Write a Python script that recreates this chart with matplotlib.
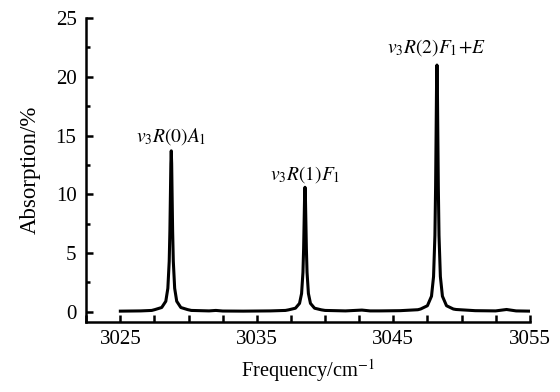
import numpy as np
import matplotlib
matplotlib.use("Agg")
import matplotlib.pyplot as plt
from matplotlib.ticker import MultipleLocator

plt.rcParams['font.family'] = ['Liberation Serif', 'DejaVu Serif']
plt.rcParams['mathtext.fontset'] = 'stix'

# line centres (cm^-1)
centres = [3028.73, 3038.53, 3048.2]
labels = [r'$v_3R(0)A_1$', r'$v_3R(1)F_1$', r'$v_3R(2)F_1\!+\!E$']
# offsets from each centre where the profile was read
offsets = [-1.2, -0.7, -0.4, -0.25, -0.15, -0.1, -0.06, -0.03, 0.0,
           0.03, 0.06, 0.1, 0.15, 0.25, 0.4, 0.7, 1.2]
peak1 = [0.19, 0.37, 0.9, 2.0, 4.3, 6.9, 10.1, 12.6, 13.7,
         12.6, 10.1, 6.9, 4.3, 2.0, 0.9, 0.37, 0.19]
peak2 = [0.17, 0.31, 0.72, 1.56, 3.36, 5.4, 7.9, 9.8, 10.6,
         9.8, 7.9, 5.4, 3.36, 1.56, 0.72, 0.31, 0.17]
peak3 = [0.24, 0.52, 1.33, 3.0, 6.5, 10.6, 15.5, 19.3, 21.0,
         19.3, 15.5, 10.6, 6.5, 3.0, 1.33, 0.52, 0.24]

# baseline stretches between the lines
base_x = [[3025.0, 3026.5, 3027.3],
          [3030.2, 3031.5, 3032.0, 3032.5, 3034.0, 3036.0, 3037.1],
          [3040.0, 3041.5, 3042.7, 3043.3, 3044.0, 3045.5, 3046.8],
          [3049.6, 3051.0, 3052.5, 3053.3, 3054.0, 3055.0]]
base_y = [[0.06, 0.08, 0.12],
          [0.12, 0.08, 0.12, 0.07, 0.06, 0.08, 0.12],
          [0.12, 0.08, 0.15, 0.08, 0.08, 0.1, 0.18],
          [0.2, 0.1, 0.08, 0.2, 0.08, 0.06]]

peaks = [peak1, peak2, peak3]
freq, absn = list(base_x[0]), list(base_y[0])
for i, c in enumerate(centres):
    freq += [c + o for o in offsets] + base_x[i + 1]
    absn += peaks[i] + base_y[i + 1]

fig = plt.figure(figsize=(5.6, 3.92), dpi=100)
ax = fig.add_axes([0.154, 0.179, 0.792, 0.775])
ax.plot(freq, absn, color='black', lw=2.2, solid_joinstyle='round')

ax.set_xlim(3022.5, 3055)
ax.set_ylim(-0.85, 25)
ax.set_xticks([3025, 3035, 3045, 3055])
ax.xaxis.set_minor_locator(MultipleLocator(2.5))
ax.yaxis.set_major_locator(MultipleLocator(5))
ax.yaxis.set_minor_locator(MultipleLocator(2.5))
ax.tick_params(which='both', direction='in', width=1.8, labelsize=15)
ax.tick_params(which='major', length=5)
ax.tick_params(which='minor', length=3)
ax.tick_params(axis='x', which='minor', length=5)
ax.tick_params(axis='x', which='major', pad=6)
ax.tick_params(axis='y', which='major', pad=7)
for s in ['top', 'right']:
    ax.spines[s].set_visible(False)
for s in ['left', 'bottom']:
    ax.spines[s].set_linewidth(1.8)

heights = [max(p) for p in peaks]
gaps = [0.3, 0.2, 0.6]
for c, h, g, lab in zip(centres, heights, gaps, labels):
    ax.text(c, h + g, lab, ha='center', va='bottom', fontsize=14)

ax.set_xlabel(r'Frequency/cm$^{-1}$', fontsize=14.7, labelpad=6)
ax.set_ylabel('Absorption/%', fontsize=16.5, labelpad=11)

fig.savefig('out.png', dpi=100)
